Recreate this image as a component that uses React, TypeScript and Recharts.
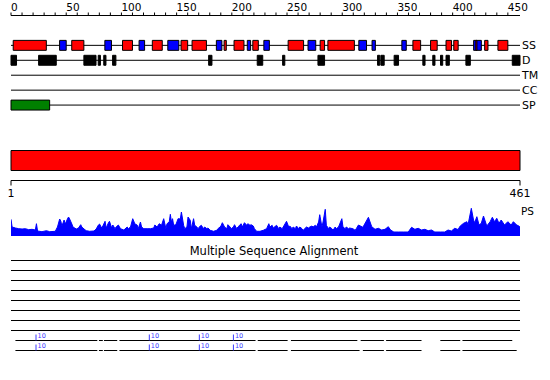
import React from 'react';
import { ComposedChart, XAxis, YAxis, ReferenceArea, ReferenceLine, Area, Scatter, Line, Label } from 'recharts';

const SEQ_LENGTH = 461;
const topTicks = [0, 10, 20, 30, 40, 50, 60, 70, 80, 90, 100, 110, 120, 130, 140, 150, 160, 170, 180, 190, 200, 210, 220, 230, 240, 250, 260, 270, 280, 290, 300, 310, 320, 330, 340, 350, 360, 370, 380, 390, 400, 410, 420, 430, 440, 450];
const labelledTicks = [0, 50, 100, 150, 200, 250, 300, 350, 400, 450];
const rowNames = ['SS', 'D', 'TM', 'CC', 'SP'];

// secondary structure (row SS)
const strandSegments: [number, number][] = [[44, 50], [85, 91], [116, 121], [142, 152], [186, 191], [214, 217], [229, 234], [269, 276], [315, 322], [327, 330], [354, 358], [419, 426]];
const helixSegments: [number, number][] = [[2, 32], [55, 66], [101, 110], [128, 137], [154, 160], [164, 177], [193, 195], [202, 211], [219, 224], [251, 265], [280, 284], [287, 311], [364, 371], [380, 386], [394, 399], [401, 405], [421, 422], [429, 432], [441, 450]];
// disorder (row D)
const disorderSegments: [number, number][] = [[0, 5], [25, 41], [66, 77], [79, 81], [84, 86], [92, 95], [179, 182], [223, 228], [246, 248], [278, 284], [332, 334], [335, 338], [347, 351], [373, 375], [382, 384], [389, 391], [394, 397], [412, 416], [454, 461]];
// transmembrane / coiled coil: none
const tmSegments: [number, number][] = [];
const ccSegments: [number, number][] = [];
// signal peptide (row SP)
const spSegments: [number, number][] = [[0, 35]];

// domain bar
const domainRange: [number, number] = [1, 461];
const scaleTicks = [1, 461];

// PS profile
const profilePos = [1, 2, 5, 8, 11, 14, 17, 20, 23, 24, 25, 29, 33, 36, 41, 43, 45, 46, 47, 49, 50, 52, 53, 54, 56, 57, 60, 62, 64, 65, 67, 69, 72, 76, 78, 80, 81, 83, 84, 86, 87, 89, 90, 92, 93, 95, 96, 98, 100, 103, 106, 107, 109, 111, 113, 115, 116, 118, 119, 121, 124, 127, 130, 131, 133, 135, 137, 139, 141, 142, 144, 145, 146, 147, 148, 150, 152, 154, 155, 157, 158, 160, 161, 163, 164, 166, 167, 169, 170, 172, 173, 175, 176, 178, 179, 181, 184, 187, 188, 190, 191, 192, 194, 196, 197, 199, 200, 202, 203, 205, 206, 209, 210, 212, 214, 215, 217, 218, 220, 221, 223, 226, 229, 232, 234, 235, 237, 238, 241, 243, 244, 246, 247, 250, 252, 253, 255, 256, 258, 259, 261, 262, 264, 265, 268, 270, 271, 273, 274, 276, 277, 279, 280, 282, 283, 285, 286, 288, 289, 291, 292, 294, 295, 297, 300, 301, 303, 304, 306, 307, 310, 312, 313, 315, 319, 324, 327, 330, 333, 336, 339, 342, 344, 347, 351, 356, 360, 363, 366, 369, 372, 375, 378, 381, 384, 389, 393, 396, 399, 402, 405, 407, 410, 413, 414, 417, 419, 420, 422, 424, 426, 428, 431, 434, 436, 438, 440, 442, 444, 447, 450, 453, 455, 458, 460, 461];
const profileVal = [16.7, 9, 8, 7.3, 7, 7.3, 6.3, 6.7, 6, 12.3, 5, 4.3, 5.3, 4.3, 4.7, 9, 17, 15, 10, 16, 12, 17, 19, 17, 12, 9, 7, 8, 11.3, 9, 7, 5.3, 4.7, 5, 7, 11, 12, 8, 10, 14.7, 8, 13, 14.7, 8, 11, 7.3, 9, 11, 7.3, 6, 9, 7.3, 9, 17.3, 12, 11, 7.3, 14, 9, 7.3, 7.3, 7.3, 8, 11, 9, 12.3, 10.7, 17.3, 7.3, 12.3, 14, 21.7, 14, 17.3, 10.7, 11.3, 17.3, 17, 24, 10.7, 7.3, 9, 19, 15.7, 7.3, 17.3, 10.7, 9, 7.3, 10, 10.7, 7.3, 9, 7.3, 8, 5.7, 4.7, 5.7, 7.3, 9, 10.7, 13.3, 9, 7.3, 11.3, 9, 7.3, 9, 11.3, 7.3, 9, 12.3, 9, 13.3, 10.7, 12.3, 10.7, 11.3, 10, 7.3, 4.7, 4.7, 5.7, 7.3, 12.3, 9, 10.7, 8, 10.7, 7.3, 9, 7.3, 9, 14.7, 9, 10, 7.3, 9, 7.3, 10, 7.3, 9, 7.3, 5.7, 9, 8, 9, 10, 9, 10.7, 9, 14, 21.3, 9, 14, 26.7, 10.7, 7.3, 9, 7.3, 5.7, 9, 7.3, 9, 17.3, 9, 7.3, 9, 7.3, 8, 7.3, 5.7, 7.3, 11, 8.7, 18.7, 9.3, 6.7, 7.7, 6, 6.7, 9.3, 6, 4, 4, 4, 4, 8.7, 6.7, 7.7, 6, 6.7, 5.3, 6, 4, 4, 4, 6, 5, 7.7, 6.5, 10, 12.7, 14.3, 11, 27.7, 16, 13.3, 19.3, 11, 12.7, 20, 10, 14.3, 18.7, 14.3, 17.7, 12.7, 16, 11, 14.3, 11, 14.3, 11, 10, 8.7];
const profileData = profilePos.map((r, i) => ({ r, v: profileVal[i] }));

// multiple sequence alignment
const msaTitle = 'Multiple Sequence Alignment';
const msaFullRows = [0, 1, 2, 3, 4, 5, 6, 7];
const msaRowA: [number, number][] = [[5, 79], [80.5, 84], [85, 97], [99, 222], [224, 251], [254, 314], [317, 338], [340, 372], [389, 407], [409, 454]];
const msaRowB: [number, number][] = [[5, 79], [80.5, 84], [85, 97], [99, 222], [224, 251], [254, 316], [319, 338], [340, 372], [389, 407], [409, 458]];
const markerPos = [23.6, 126, 171.2, 202];
const markerLabel = '10';
const msaMarkers = [
  ...markerPos.map((x) => ({ x, y: 8, label: markerLabel })),
  ...markerPos.map((x) => ({ x, y: 9, label: markerLabel })),
];

const BOX = 1 / 3;
const FONT = 'DejaVu Sans, Verdana, sans-serif';

const rowLineData = rowNames.map((name, i) => [
  { x: 0, y: i },
  { x: SEQ_LENGTH, y: i },
]);
const scaleData = scaleTicks.map((x) => ({ x, y: 0 }));

const TopTick = (props: any) => {
  const { x, y, payload } = props;
  if (!labelledTicks.includes(payload.value)) return <g />;
  return (
    <text x={x} y={y} textAnchor="start" fontSize={10.5} fill="#000" fontFamily={FONT}>
      {payload.value}
    </text>
  );
};

const boxes = (segs: [number, number][], row: number, fill: string, key: string) =>
  segs.map(([a, b], i) => (
    <ReferenceArea
      key={key + i}
      x1={a}
      x2={b}
      y1={row - BOX}
      y2={row + BOX}
      fill={fill}
      fillOpacity={1}
      stroke="#000"
      strokeWidth={1}
      zIndex={110}
    />
  ));

const MarkerShape = (props: any) => {
  const { cx, cy, payload } = props;
  return (
    <g>
      <line x1={cx} x2={cx} y1={cy - 6} y2={cy} stroke="#3a3aff" strokeWidth={1} />
      <text x={cx + 1.5} y={cy - 2.5} fontSize={6.5} fill="#3a3aff" fontFamily={FONT}>
        {payload.label}
      </text>
    </g>
  );
};

export default function App() {
  return (
    <div style={{ position: 'absolute', left: 0, top: 0, width: 550, height: 380, background: '#fff', fontFamily: FONT }}>
      {/* feature rows */}
      <div style={{ position: 'absolute', left: 0, top: 0 }}>
        <ComposedChart width={550} height={120} data={rowLineData[0]} margin={{ top: 0, right: 0, bottom: 0, left: 11 }}>
          <XAxis
            type="number"
            dataKey="x"
            orientation="top"
            domain={[0, SEQ_LENGTH]}
            ticks={topTicks}
            interval={0}
            allowDataOverflow
            height={15.5}
            tickSize={3}
            tickMargin={2}
            tick={<TopTick />}
            stroke="#000"
          />
          <YAxis
            type="number"
            dataKey="y"
            orientation="right"
            domain={[-2, 5]}
            reversed
            ticks={[0, 1, 2, 3, 4]}
            interval={0}
            allowDataOverflow
            width={30}
            axisLine={false}
            tickLine={false}
            tickSize={0}
            tickMargin={2}
            tickFormatter={(v: number) => rowNames[v]}
            tick={{ fill: '#000', fontSize: 11, fontFamily: FONT }}
          />
          {rowLineData.map((d, i) => (
            <Line
              key={rowNames[i]}
              data={d}
              dataKey="y"
              stroke="#000"
              strokeWidth={1}
              dot={false}
              activeDot={false}
              isAnimationActive={false}
              zIndex={50}
            />
          ))}
          {boxes(strandSegments, 0, '#0000ff', 'st')}
          {boxes(helixSegments, 0, '#ff0000', 'he')}
          {boxes(disorderSegments, 1, '#000000', 'di')}
          {boxes(tmSegments, 2, '#000000', 'tm')}
          {boxes(ccSegments, 3, '#000000', 'cc')}
          {boxes(spSegments, 4, '#008000', 'sp')}
        </ComposedChart>
      </div>

      {/* domain bar + scale */}
      <div style={{ position: 'absolute', left: 0, top: 140 }}>
        <ComposedChart width={550} height={65} data={scaleData} margin={{ top: 0.5, right: 30, bottom: 0, left: 11 }}>
          <XAxis
            type="number"
            dataKey="x"
            domain={[1, SEQ_LENGTH]}
            ticks={scaleTicks}
            interval={0}
            allowDataOverflow
            height={24.5}
            tickSize={5}
            tickMargin={4}
            stroke="#000"
            tick={{ fill: '#000', fontSize: 11, fontFamily: FONT }}
          />
          <YAxis type="number" dataKey="y" domain={[0, 4]} hide allowDataOverflow />
          <Scatter data={scaleData} shape={() => <g />} isAnimationActive={false} />
          <ReferenceArea x1={domainRange[0]} x2={domainRange[1]} y1={1} y2={3} fill="#ff0000" fillOpacity={1} stroke="#000" strokeWidth={1} />
        </ComposedChart>
      </div>

      {/* PS profile */}
      <div style={{ position: 'absolute', left: 0, top: 200 }}>
        <ComposedChart width={550} height={36} data={profileData} margin={{ top: 0, right: 0, bottom: 0, left: 11 }}>
          <XAxis type="number" dataKey="r" domain={[1, SEQ_LENGTH]} hide allowDataOverflow />
          <YAxis
            type="number"
            orientation="right"
            domain={[0, 36]}
            ticks={[25]}
            allowDataOverflow
            width={30}
            axisLine={false}
            tickLine={false}
            tickSize={0}
            tickMargin={1}
            tickFormatter={() => 'PS'}
            tick={{ fill: '#000', fontSize: 10.5, fontFamily: FONT }}
          />
          <Area type="linear" dataKey="v" fill="#0000ff" fillOpacity={1} stroke="#0000ff" strokeWidth={1} dot={false} activeDot={false} isAnimationActive={false} />
        </ComposedChart>
      </div>

      {/* MSA */}
      <div style={{ position: 'absolute', left: 0, top: 240 }}>
        <ComposedChart width={550} height={120.5} margin={{ top: 0, right: 30, bottom: 0, left: 11 }}>
          <XAxis
            type="number"
            dataKey="x"
            orientation="top"
            domain={[1, SEQ_LENGTH]}
            allowDataOverflow
            height={20.5}
            axisLine={false}
            tickLine={false}
            tick={false}
            label={
              <Label
                content={() => (
                  <text x={274} y={14.5} textAnchor="middle" fontSize={11.5} fill="#000" fontFamily={FONT}>
                    {msaTitle}
                  </text>
                )}
              />
            }
          />
          <YAxis type="number" dataKey="y" domain={[0, 10]} reversed hide allowDataOverflow />
          {msaFullRows.map((r) => (
            <ReferenceLine key={'f' + r} segment={[{ x: 1, y: r }, { x: SEQ_LENGTH, y: r }]} stroke="#000" strokeWidth={1} />
          ))}
          {msaRowA.map(([a, b], i) => (
            <ReferenceLine key={'a' + i} segment={[{ x: a, y: 8 }, { x: b, y: 8 }]} stroke="#000" strokeWidth={1} />
          ))}
          {msaRowB.map(([a, b], i) => (
            <ReferenceLine key={'b' + i} segment={[{ x: a, y: 9 }, { x: b, y: 9 }]} stroke="#000" strokeWidth={1} />
          ))}
          <Scatter data={msaMarkers} shape={<MarkerShape />} isAnimationActive={false} />
        </ComposedChart>
      </div>
    </div>
  );
}
